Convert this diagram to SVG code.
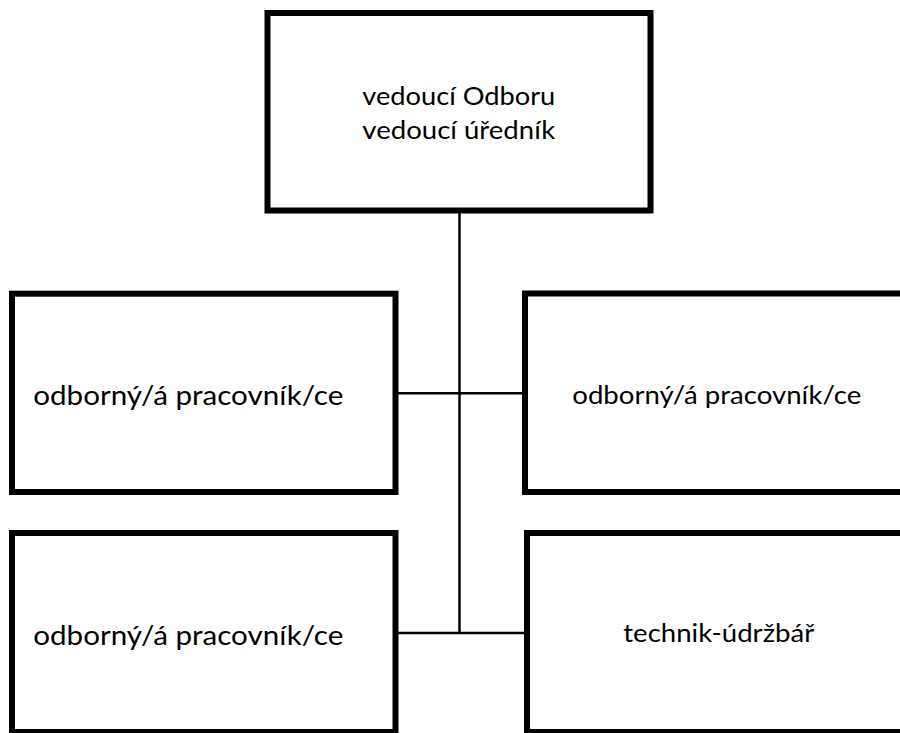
<svg xmlns="http://www.w3.org/2000/svg" width="900" height="733" viewBox="0 0 900 733">
<style>
.box{fill:#fff;stroke:#000;stroke-width:6}
.con{fill:none;stroke:#000;stroke-width:2.5}
.t{font-family:Lato,"Open Sans","Liberation Sans",sans-serif;fill:#000}
</style>
<rect width="900" height="733" fill="#fff"/>
<g id="connectors">
<line class="con" x1="459.5" y1="210" x2="459.5" y2="633"/>
<line class="con" x1="395.5" y1="393.3" x2="525" y2="393.3"/>
<line class="con" x1="395.5" y1="633" x2="527" y2="633"/>
</g>
<g id="n-top">
<rect class="box" x="267.5" y="13" width="383" height="197.5"/>
<text class="t" x="362.3" y="105" font-size="24.5" textLength="193" lengthAdjust="spacingAndGlyphs">vedoucí Odboru</text>
<text class="t" x="362.3" y="139" font-size="24.5" textLength="193" lengthAdjust="spacingAndGlyphs">vedoucí úředník</text>
</g>
<g id="n-ml">
<rect class="box" x="12" y="293.7" width="383.5" height="198.3"/>
<text class="t" x="33.3" y="405" font-size="26.5" textLength="310" lengthAdjust="spacingAndGlyphs">odborný/á pracovník/ce</text>
</g>
<g id="n-mr">
<rect class="box" x="525" y="293.5" width="400" height="198.5"/>
<text class="t" x="572.3" y="404" font-size="25" textLength="289" lengthAdjust="spacingAndGlyphs">odborný/á pracovník/ce</text>
</g>
<g id="n-bl">
<rect class="box" x="12" y="533" width="383.5" height="199"/>
<text class="t" x="33.3" y="645" font-size="26.5" textLength="310" lengthAdjust="spacingAndGlyphs">odborný/á pracovník/ce</text>
</g>
<g id="n-br">
<rect class="box" x="527" y="533" width="400" height="199"/>
<text class="t" x="623.3" y="642" font-size="25" textLength="191" lengthAdjust="spacingAndGlyphs">technik-údržbář</text>
</g>
</svg>
